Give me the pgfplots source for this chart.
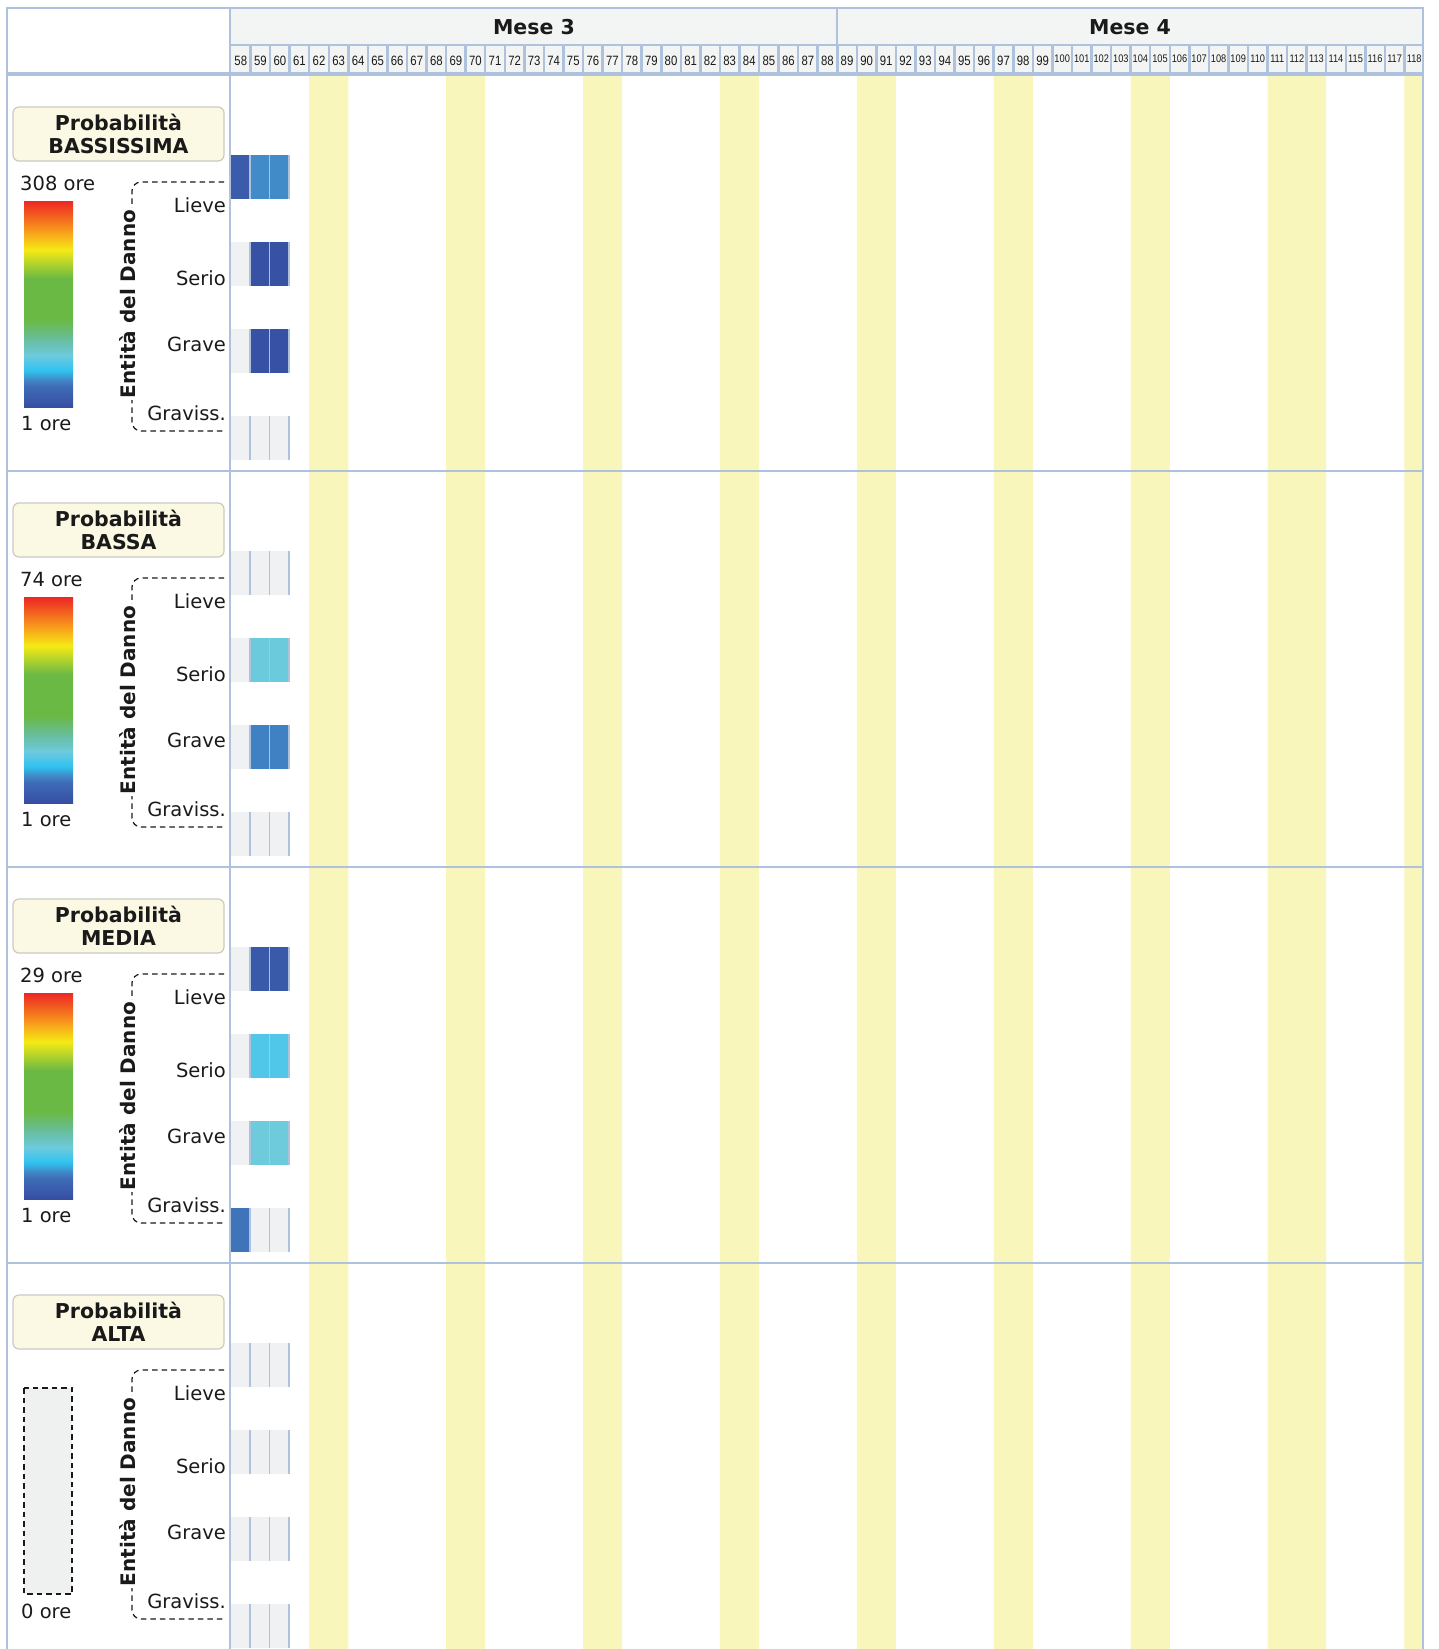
\documentclass[border=0pt]{standalone}
\usepackage{pgfplots}
\pgfplotsset{compat=1.18}
\usepackage{pgfplotstable}
\usepackage{fontspec}
\setmainfont{DejaVu Sans}
\newfontfamily\narrowfont[FakeStretch=0.84]{Liberation Sans}

\definecolor{gridc}{HTML}{AEC2DE}
\definecolor{headbg}{HTML}{F3F4F4}
\definecolor{weekend}{HTML}{F8F6BB}
\definecolor{emptycell}{HTML}{F0F1F3}
\definecolor{boxbg}{HTML}{FBF9E3}
\definecolor{boxline}{HTML}{CACAC4}
\definecolor{txt}{HTML}{1A1A1A}
\definecolor{zerobox}{HTML}{EFF0F0}

\pgfdeclareplotmark{cell}{%
  \pgfpathrectangle{\pgfqpoint{-9.78pt}{-22pt}}{\pgfqpoint{19.56pt}{44pt}}%
  \pgfusepathqfill
  \pgfpathmoveto{\pgfqpoint{9.2pt}{-22pt}}%
  \pgfpathlineto{\pgfqpoint{9.2pt}{22pt}}%
  \pgfusepathqstroke}

\pgfplotsset{
  colormap={ore}{
    rgb255(0pt)=(54,78,162);
    rgb255(100pt)=(62,108,182);
    rgb255(135pt)=(65,140,202);
    rgb255(175pt)=(46,194,239);
    rgb255(214pt)=(80,198,232);
    rgb255(250pt)=(110,203,220);
    rgb255(320pt)=(104,190,165);
    rgb255(420pt)=(106,185,69);
    rgb255(620pt)=(106,185,69);
    rgb255(760pt)=(245,234,20);
    rgb255(860pt)=(247,148,29);
    rgb255(1000pt)=(237,34,36)
  },
  panel/.style={
    scale only axis, width=1193pt, height=396pt,
    xmin=57.5, xmax=118.5, ymin=0, ymax=396, y dir=reverse,
    hide axis, anchor=north west, colormap name=ore,
  },
  withbar/.style={
    colorbar,
    colorbar/width=49pt,
    colorbar style={
      at={(parent axis.north west)}, anchor=north west,
      xshift=-215.5pt, yshift=-125pt,
      scale only axis, width=49pt, height=207pt,
      xtick=\empty, ytick=\empty, y dir=normal,
      axis line style={draw=none},
    },
  },
}

% data: day, row (0 Lieve, 1 Serio, 2 Grave, 3 Graviss.), hours
\pgfplotstableread{
day row ore
58 0 15
59 0 42
60 0 42
58 1 0
59 1 5
60 1 5
58 2 0
59 2 5
60 2 5
58 3 0
59 3 0
60 3 0
}\tabA
\pgfplotstableread{
day row ore
58 0 0
59 0 0
60 0 0
58 1 0
59 1 19
60 1 19
58 2 0
59 2 10
60 2 10
58 3 0
59 3 0
60 3 0
}\tabB
\pgfplotstableread{
day row ore
58 0 0
59 0 2
60 0 2
58 1 0
59 1 7
60 1 7
58 2 0
59 2 8
60 2 8
58 3 4
59 3 0
60 3 0
}\tabC
\pgfplotstableread{
day row ore
58 0 0
59 0 0
60 0 0
58 1 0
59 1 0
60 1 0
58 2 0
59 2 0
60 2 0
58 3 0
59 3 0
60 3 0
}\tabD

\newcommand\weekends[1]{\addplot[ybar, bar width=1, fill=weekend, draw=none] coordinates {(62,#1) (63,#1) (69,#1) (70,#1) (76,#1) (77,#1) (83,#1) (84,#1) (90,#1) (91,#1) (97,#1) (98,#1) (104,#1) (105,#1) (111,#1) (112,#1) (113,#1) (118,#1)};}
\newcommand\cells[1]{\addplot[only marks, mark=cell, mark options={fill=emptycell, draw=gridc, line width=1.2pt}] table[x=day, y expr=102+87*\thisrow{row}] {#1};}
\newcommand\heat[1]{\addplot[scatter, only marks, mark=cell, point meta=\thisrow{ore},
   restrict expr to domain={\thisrow{ore}}{0.5:100000},
   scatter/use mapped color={draw=gridc, fill=mapped color},
   mark options={line width=1.2pt}] table[x=day, y expr=102+87*\thisrow{row}] {#1};}

\newcommand\panelleft[2]{%
  \draw[boxline, fill=boxbg, rounded corners=6pt, line width=1.2pt] (13,#1+32) rectangle (224,#1+86);
  \node[anchor=base, inner sep=0, font=\bfseries\fontsize{20.5}{21}\selectfont, text=txt] at (118.5,#1+55) {Probabilità};
  \node[anchor=base, inner sep=0, font=\bfseries\fontsize{20.5}{21}\selectfont, text=txt] at (118.5,#1+78) {#2};
  \draw[txt, line width=1.2pt, dash pattern=on 5.5pt off 4pt, rounded corners=9pt] (224,#1+107) -- (132,#1+107) -- (132,#1+356) -- (224,#1+356);
  \node[rotate=90, fill=white, inner sep=1.5pt, font=\bfseries\fontsize{20}{20}\selectfont, text=txt] at (128,#1+229) {Entità del Danno};
  \node[anchor=base east, inner sep=0, font=\fontsize{19.5}{20}\selectfont, text=txt] at (226,#1+137.5) {Lieve};
  \node[anchor=base east, inner sep=0, font=\fontsize{19.5}{20}\selectfont, text=txt] at (226,#1+210) {Serio};
  \node[anchor=base east, inner sep=0, font=\fontsize{19.5}{20}\selectfont, text=txt] at (226,#1+276.5) {Grave};
  \node[anchor=base east, inner sep=0, font=\fontsize{19.5}{20}\selectfont, text=txt] at (226,#1+345) {Graviss.};
}

\begin{document}
\begin{tikzpicture}[x=1pt, y=-1pt]
% panels
\begin{axis}[panel, withbar, at={(231pt,-75pt)}, point meta min=1, point meta max=308]
\weekends{396}
\cells{\tabA}
\heat{\tabA}
\end{axis}
\begin{axis}[panel, withbar, at={(231pt,-471pt)}, point meta min=1, point meta max=74]
\weekends{396}
\cells{\tabB}
\heat{\tabB}
\end{axis}
\begin{axis}[panel, withbar, at={(231pt,-867pt)}, point meta min=1, point meta max=29]
\weekends{396}
\cells{\tabC}
\heat{\tabC}
\end{axis}
\begin{axis}[panel, at={(231pt,-1263pt)}, height=386pt, ymax=386]
\weekends{386}
\cells{\tabD}
\end{axis}

% header
\fill[headbg] (231,8) rectangle (1423,73);
\draw[gridc, line width=2.2pt] (230,45) -- (1423,45);
\draw[gridc, line width=2.2pt] (837,8) -- (837,45);
\foreach \k in {1,...,60} \draw[gridc, line width=2.5pt] ({231+\k*19.557},45) -- ({231+\k*19.557},73);
\node[anchor=base, inner sep=0, font=\bfseries\fontsize{20.5}{21}\selectfont, text=txt] at (534,34.3) {Mese 3};
\node[anchor=base, inner sep=0, font=\bfseries\fontsize{20.5}{21}\selectfont, text=txt] at (1130,34.3) {Mese 4};
\foreach \d in {58,...,118}{
  \pgfmathsetmacro\cx{231+(\d-57.5)*19.557}
  \ifnum\d<100
    \node[anchor=base, inner sep=0, font=\narrowfont\fontsize{13.5}{14}\selectfont, text=txt] at (\cx,65) {\d};
  \else
    \node[anchor=base, inner sep=0, font=\narrowfont\fontsize{11}{12}\selectfont, text=txt] at (\cx,62.5) {\d};
  \fi
}

% frame
\draw[gridc, line width=2.5pt] (7,1655) -- (7,8) -- (1423,8) -- (1423,1655);
\draw[gridc, line width=2.7pt] (230,8) -- (230,1655);
\draw[gridc, line width=4pt] (7,74) -- (1423,74);
\foreach \y in {471,867,1263} \draw[gridc, line width=2.2pt] (7,\y) -- (1423,\y);

% left column
\panelleft{75}{BASSISSIMA}
\panelleft{471}{BASSA}
\panelleft{867}{MEDIA}
\panelleft{1263}{ALTA}
\node[anchor=base west, inner sep=0, font=\fontsize{19.5}{20}\selectfont, text=txt] at (20,75+115.5) {308 ore};
\node[anchor=base west, inner sep=0, font=\fontsize{19.5}{20}\selectfont, text=txt] at (21,75+355) {1 ore};
\node[anchor=base west, inner sep=0, font=\fontsize{19.5}{20}\selectfont, text=txt] at (20,471+115.5) {74 ore};
\node[anchor=base west, inner sep=0, font=\fontsize{19.5}{20}\selectfont, text=txt] at (21,471+355) {1 ore};
\node[anchor=base west, inner sep=0, font=\fontsize{19.5}{20}\selectfont, text=txt] at (20,867+115.5) {29 ore};
\node[anchor=base west, inner sep=0, font=\fontsize{19.5}{20}\selectfont, text=txt] at (21,867+355) {1 ore};
\draw[txt, fill=zerobox, line width=1.2pt, dash pattern=on 5.5pt off 4pt] (24,1263+125) rectangle (72,1263+331);
\node[anchor=base west, inner sep=0, font=\fontsize{19.5}{20}\selectfont, text=txt] at (21,1263+355) {0 ore};

\pgfresetboundingbox
\path[use as bounding box] (0,0) rectangle (1439,1649);
\end{tikzpicture}
\end{document}
